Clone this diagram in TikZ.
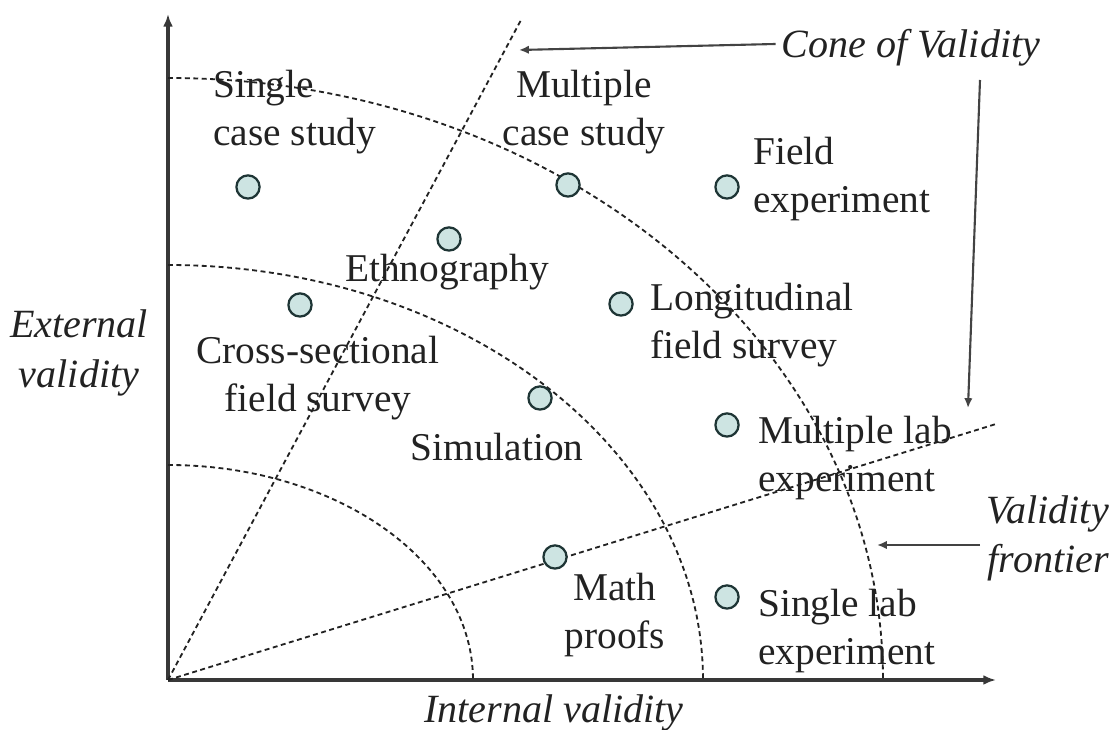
\documentclass[tikz,border=0pt]{standalone}
\usepackage{fontspec}
\setmainfont{Liberation Serif}
\usepackage{tikz}
\usetikzlibrary{arrows.meta}
\definecolor{CVDot}{HTML}{CDE4E2}
\definecolor{CVRim}{HTML}{1E3535}
\definecolor{CVInk}{HTML}{222222}

\tikzset{
  method/.style={circle,draw=CVRim,fill=CVDot,line width=1.6pt,minimum size=0.58cm,inner sep=0pt},
  lbl/.style={font=\fontsize{28}{34}\selectfont,text=CVInk,inner sep=0pt},
  itlbl/.style={lbl,font=\fontsize{28.5}{35}\selectfont\itshape},
  bound/.style={line width=1.3pt,dash pattern=on 3.5pt off 2.5pt,CVInk},
  pointer/.style={line width=1.5pt,CVInk!85,-{Latex[length=7pt,width=6pt]}}
}

\begin{document}
\begin{tikzpicture}[x=0.025cm,y=0.025cm]
\path[use as bounding box] (0,0) rectangle (1114,730);
% axes
\coordinate (o) at (168,50);
\coordinate (ytop) at (168,716);
\coordinate (xend) at (996,50);
\draw[line width=2.2pt,CVInk!90,-{Latex[length=9pt,width=7pt]}] (o) -- (ytop);
\draw[line width=2.2pt,CVInk!90,-{Latex[length=9pt,width=7pt]}] (o) -- (xend);
% cone of validity
\coordinate (ctop) at (521,710);
\coordinate (cright) at (996,306);
\draw[bound] (o) -- (ctop);
\draw[bound] (o) -- (cright);
% validity frontiers
\draw[bound] (168,265) arc[start angle=90,end angle=0,x radius=305,y radius=215];
\draw[bound] (168,465) arc[start angle=90,end angle=0,x radius=535,y radius=415];
\draw[bound] (168,652) arc[start angle=90,end angle=0,x radius=715,y radius=602];
% research methods
\node[method] (sc) at (248,543) {};
\node[method] (mc) at (568,545) {};
\node[method] (fe) at (727,543) {};
\node[method] (eth) at (449,491) {};
\node[method] (cs) at (300,425) {};
\node[method] (lfs) at (621,426) {};
\node[method] (sim) at (540,332) {};
\node[method] (mle) at (727,305) {};
\node[method] (mp) at (555,173) {};
\node[method] (sle) at (727,133) {};
\node[lbl,align=left,anchor=west] (scl) at (213,618) {Single\\case study};
\node[lbl,align=center] (mcl) at (584,618) {Multiple\\case study};
\node[lbl,align=left,anchor=west] (fel) at (753,551) {Field\\experiment};
\node[lbl] (ethl) at (447,458) {Ethnography};
\node[lbl,align=center] (csl) at (318,352) {Cross-sectional\\field survey};
\node[lbl,align=left,anchor=west] (lfsl) at (650,405) {Longitudinal\\field survey};
\node[lbl] (siml) at (497,283) {Simulation};
\node[lbl,align=left,anchor=west] (mlel) at (758,272) {Multiple lab\\experiment};
\node[lbl,align=center] (mpl) at (615,115) {Math\\proofs};
\node[lbl,align=left,anchor=west] (slel) at (758,99) {Single lab\\experiment};
% axis names and callouts
\node[itlbl,align=center] (ext) at (79,377) {External\\validity};
\node[itlbl] (int) at (554,17) {Internal validity};
\node[itlbl] (cone) at (911,682) {Cone of Validity};
\node[itlbl,align=right,anchor=east] (front) at (1109,192) {Validity\\frontier};
\coordinate (conetip) at (519,680);
\coordinate (stem) at (980,650);
\coordinate (stemtip) at (968,322);
\coordinate (fronttip) at (877,185);
\draw[pointer] (cone.west) ++(-6,4) -- (conetip);
\draw[pointer] (stem) -- (stemtip);
\draw[pointer] (front.west) ++(-6,-7) -- (fronttip);
\end{tikzpicture}
\end{document}
